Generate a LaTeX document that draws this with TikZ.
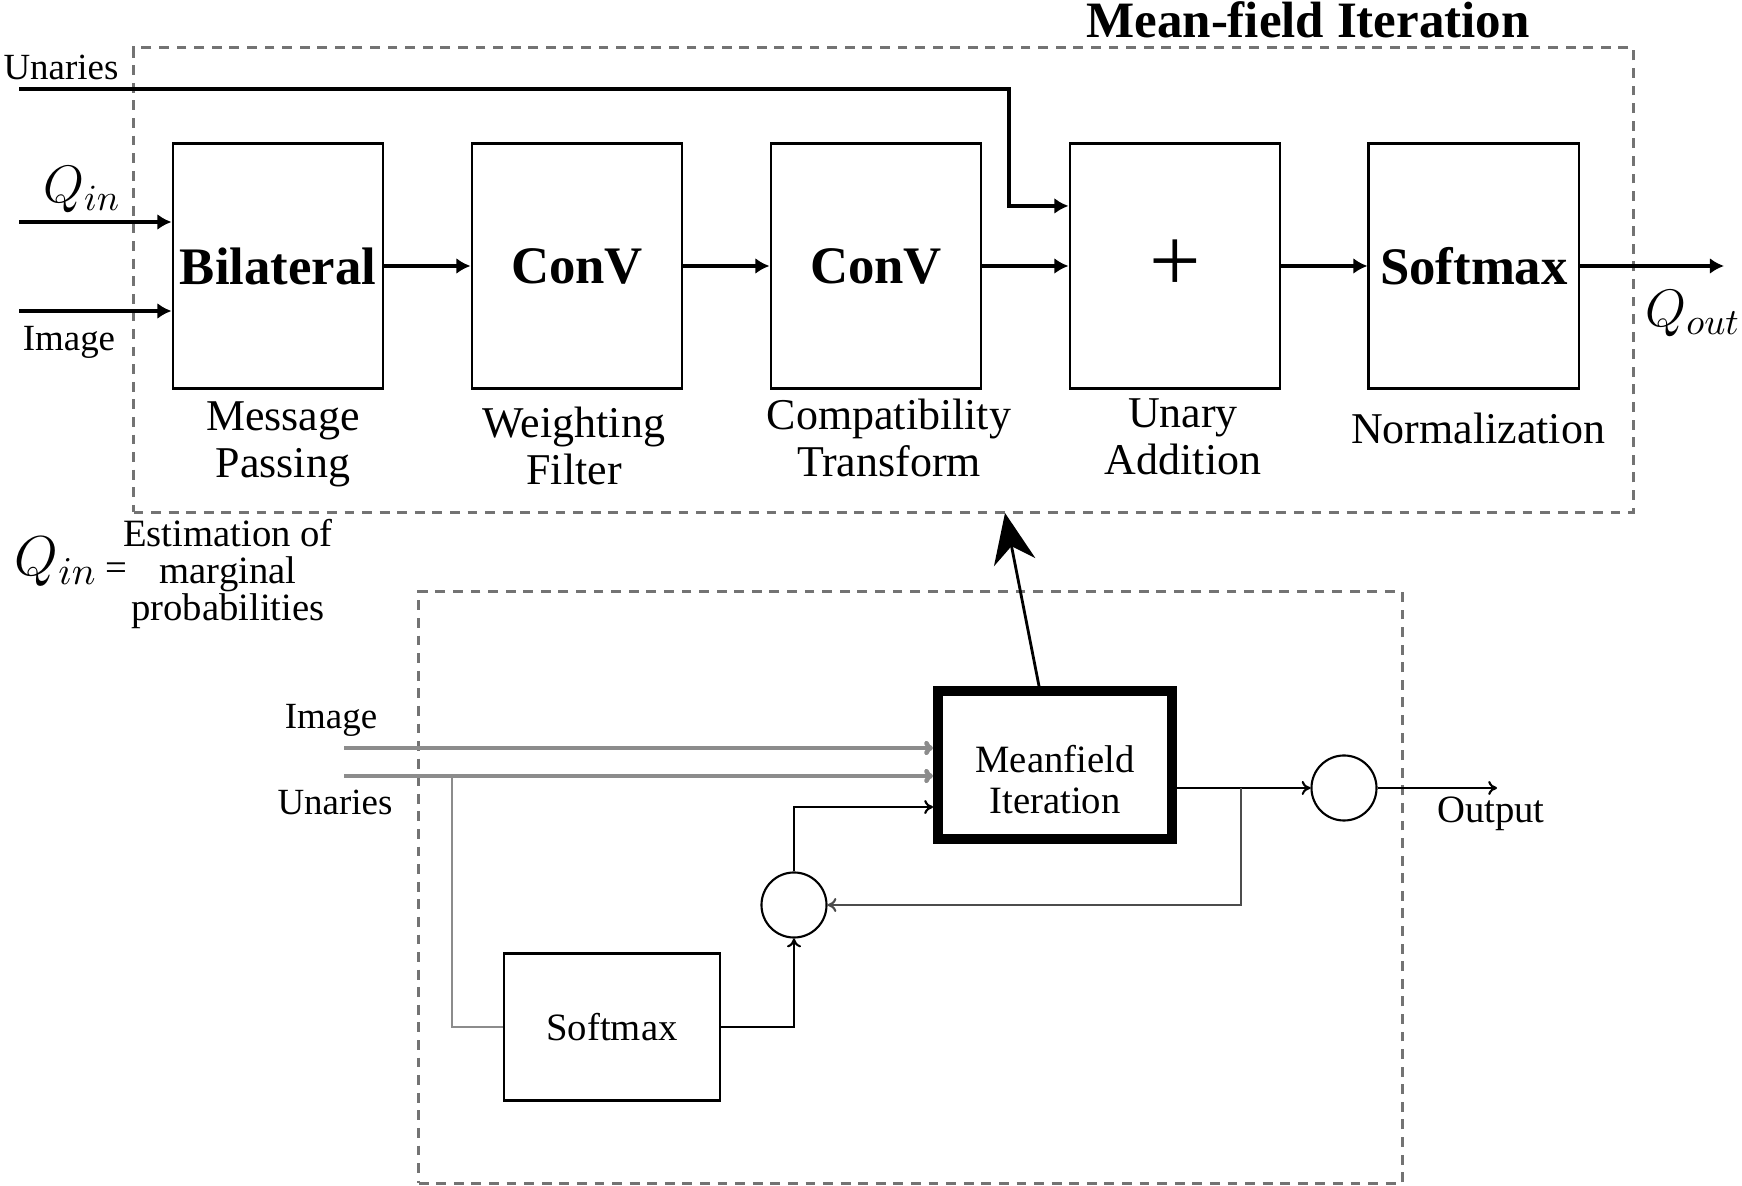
\documentclass[tikz,border=0pt]{standalone}
\usepackage{fix-cm}
\usepackage{fontspec}
\setmainfont{Liberation Serif}
\usetikzlibrary{arrows.meta,positioning}

\begin{document}
\begin{tikzpicture}[x=0.01cm,y=-0.01cm,
    blk/.style={draw,line width=0.8pt,minimum width=2.1cm,minimum height=2.45cm,inner sep=0pt,font=\fontsize{15}{16}\selectfont\bfseries},
    lbl/.style={align=center,inner sep=0pt,font=\fontsize{12.5}{13.4}\selectfont},
    sml/.style={inner sep=0pt,font=\fontsize{10.5}{11}\selectfont},
    frame/.style={draw=black!55,line width=0.9pt,dash pattern=on 2.8pt off 2.2pt,inner sep=0pt},
    thk/.style={line width=1.2pt,-{Latex[length=4pt,width=4.5pt]}},
    thn/.style={line width=0.6pt,-{To[length=2.5pt,width=4pt]}},
    gin/.style={draw=black!45,line width=1.3pt,-{To[length=2.5pt,width=4pt]}},
    sumc/.style={draw,circle,line width=0.6pt,minimum size=0.65cm,inner sep=0pt},
    node distance=0.86cm]
        \useasboundingbox (0,0) rectangle (1742,1186);

        % mean-field iteration
        \node[frame,minimum width=14.99cm,minimum height=4.64cm] (topframe) at (883.5,280) {};
        \node[font=\fontsize{14.5}{15}\selectfont\bfseries,anchor=base] (title) at (1308,38) {Mean-field Iteration};

        \node[blk] (bil) at (278,266) {Bilateral};
        \node[blk,right=of bil] (cv1) {ConV};
        \node[blk,right=of cv1] (cv2) {ConV};
        \node[blk,right=of cv2,font=\fontsize{26}{26}\selectfont] (plus) {+};
        \node[blk,right=of plus] (soft) {Softmax};

        \node[lbl] (msg) at (283,444) {Message\\Passing};
        \node[lbl] (wf) at (574,446) {Weighting\\Filter};
        \node[lbl] (ct) at (889,438) {Compatibility\\Transform};
        \node[lbl] (ua) at (1183,437) {Unary\\Addition};
        \node[lbl] (nrm) at (1478,428) {Normalization};

        \coordinate (uin) at (19,89);
        \coordinate (ucorner) at (1009,89);
        \coordinate (qin) at (19,222);
        \coordinate (imin) at (19,311);
        \coordinate (qout) at (1724,266);
        \draw[thk] (uin) -- (ucorner) |- ([yshift=0.6cm]plus.west);
        \draw[thk] (qin) -- (qin -| bil.west);
        \draw[thk] (imin) -- (imin -| bil.west);
        \draw[thk] (bil) -- (cv1);
        \draw[thk] (cv1) -- (cv2);
        \draw[thk] (cv2) -- (plus);
        \draw[thk] (plus) -- (soft);
        \draw[thk] (soft) -- (qout);

        \node[sml] (unlbl) at (61,67) {Unaries};
        \node[font=\fontsize{15}{15}\selectfont] (qinlbl) at (82,190) {$Q_{in}$};
        \node[sml] (imlbl) at (69,342) {Image};
        \node[font=\fontsize{15}{15}\selectfont] (qoutlbl) at (1693,314) {$Q_{out}$};

        \node[font=\fontsize{16}{16}\selectfont] (qdef) at (56,562) {$Q_{in}$};
        \node[font=\fontsize{11}{11}\selectfont] (eq) at (116,572) {=};
        \node[lbl,font=\fontsize{11}{10.5}\selectfont] (qnote) at (228,574) {Estimation of\\marginal\\probabilities};

        % unrolled loop
        \node[frame,minimum width=9.83cm,minimum height=5.91cm] (botframe) at (910.5,887.5) {};
        \node[draw,line width=2.8pt,minimum width=2.34cm,minimum height=1.48cm,align=center,font=\fontsize{11}{11.7}\selectfont] (mf) at (1055,765) {\rule{0pt}{16pt}Meanfield\\Iteration};
        \node[draw,line width=0.7pt,minimum width=2.16cm,minimum height=1.47cm,font=\fontsize{11}{12}\selectfont] (sm) at (612,1027) {Softmax};
        \node[sumc] (c1) at (794,905) {};
        \node[sumc] (c2) at (1344,788) {};

        \coordinate (imin2) at (344,748);
        \coordinate (unin2) at (344,776);
        \coordinate (ubr) at (452,776);
        \coordinate (obr) at (1241,788);
        \coordinate (outend) at (1497,788);
        \coordinate (mftip) at (1005,513);

        \draw[gin] (imin2) -- (imin2 -| mf.west);
        \draw[gin] (unin2) -- (unin2 -| mf.west);
        \draw[draw=black!45,line width=0.8pt] (ubr) |- (sm.west);
        \draw[thn] (sm.east) -| (c1.south);
        \draw[thn] (c1.north) |- ([yshift=-0.42cm]mf.west);
        \draw[thn] (mf.east |- c2) -- (c2.west);
        \draw[thn,draw=black!70] (obr) |- (c1.east);
        \draw[thn] (c2.east) -- (outend);
        \draw[line width=0.8pt,-{Stealth[length=0.5cm,width=0.42cm]}] ([xshift=-0.16cm]mf.north) -- (mftip);

        \node[sml] (imlbl2) at (331,720) {Image};
        \node[sml] (unlbl2) at (335,802) {Unaries};
        \node[font=\fontsize{11}{11}\selectfont] (outlbl) at (1491,814) {Output};
    \end{tikzpicture}
\end{document}
